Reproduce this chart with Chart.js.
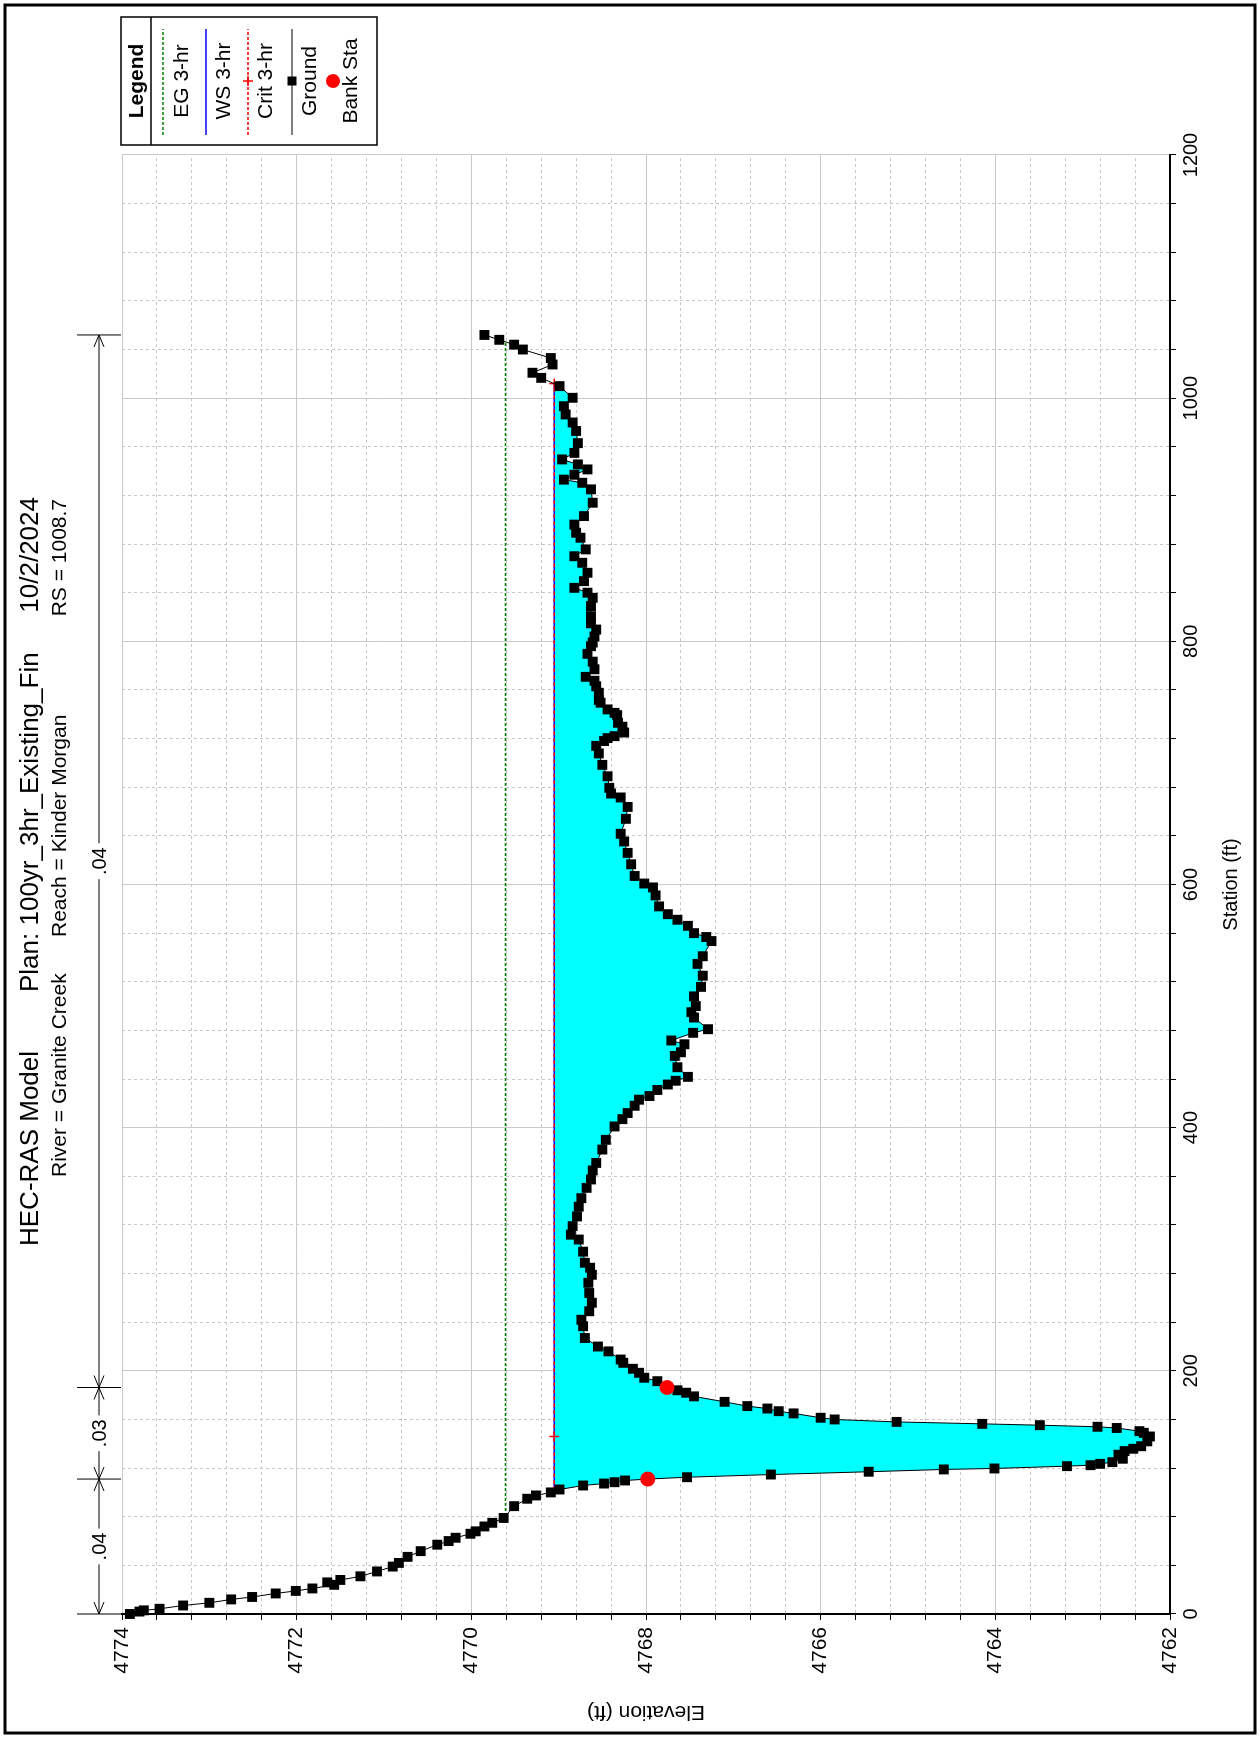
<!DOCTYPE html>
<html>
<head>
<meta charset="utf-8">
<script src="https://cdn.jsdelivr.net/npm/chart.js@4.4.1/dist/chart.umd.min.js"></script>
<style>
  html, body { margin: 0; padding: 0; background: #fff; overflow: hidden; }
  #page { width: 1259px; height: 1737px; position: relative; overflow: hidden; background: #fff; }
  /* the plot is drawn landscape and turned a quarter turn, like the HEC-RAS printout */
  #turn { position: absolute; left: 0; top: 0; width: 1737px; height: 1259px;
          transform-origin: 0 0; transform: translateY(1737px) rotate(-90deg); }
</style>
</head>
<body>
<div id="page"><div id="turn"><canvas id="xs" width="1737" height="1259"></canvas></div></div>
<script>
(function () {

    // ─────────────────────────────────────────────
    // DATA  (station ft / elevation ft)
    // ─────────────────────────────────────────────
    const groundSta = [0, 2, 3, 4.3, 7, 9.2, 12, 14, 16.9, 19, 21, 24, 26, 28, 31, 35, 39, 42, 47, 51.7,
        57, 60, 62.7, 66, 68, 72, 75, 79, 88.7, 94.8, 97.5, 100, 102.4, 105.7, 107.3, 108.4, 109.8, 111,
        112.5, 114.7, 117, 118.9, 119.7, 121.6, 122.4, 123.5, 124.9, 127.7, 131, 134, 135.9, 138, 142,
        146, 149, 150.4, 153, 154, 155.3, 156.4, 158, 160, 161.4, 165, 166.8, 169, 171, 174.5, 179, 182,
        184, 186.3, 191.5, 194.3, 198.4, 201.7, 206.6, 209.3, 216, 220, 227, 236.7, 242, 249, 256, 264,
        272.4, 279, 284.8, 288.9, 298, 308, 312, 319, 327, 335, 342, 350.5, 357.4, 364.8, 371, 382, 390,
        401, 407, 412, 418, 423, 426, 431, 435.5, 438.6, 441.8, 449.7, 459, 462, 468.6, 471.7, 478, 481,
        490.6, 495, 500, 508, 515.8, 525, 534.7, 541, 553.5, 556.8, 560, 566, 571, 575.6, 582, 591, 597.6,
        600.8, 607, 616.6, 626, 635.4, 641.7, 654, 663.8, 671.6, 674.8, 679.5, 689, 698.4, 707.8, 714,
        718, 720.4, 722, 725, 729.8, 733, 739.3, 741.2, 744, 749.5, 751.8, 757.7, 763, 767.6, 770.8, 777,
        783.3, 789.7, 796, 799, 804, 809.7, 814.8, 820.7, 829, 835.8, 840, 844, 849.5, 856.4, 864.6, 870,
        875.6, 885.2, 889.3, 896, 903, 914, 925, 930.4, 933, 937, 941.4, 945.5, 949.6, 955, 963, 973, 980,
        986.6, 993.4, 1000.3, 1009.9, 1016.7, 1020.9, 1027.7, 1033, 1040, 1044, 1048, 1052];

    const groundElev = [4773.91, 4773.80, 4773.75, 4773.57, 4773.30, 4773.00, 4772.75, 4772.51, 4772.24,
        4772.01, 4771.82, 4771.57, 4771.65, 4771.50, 4771.27, 4771.08, 4770.90, 4770.83, 4770.73, 4770.58,
        4770.39, 4770.26, 4770.18, 4770.01, 4769.95, 4769.85, 4769.76, 4769.63, 4769.51, 4769.36, 4769.26,
        4769.09, 4768.99, 4768.72, 4768.48, 4768.36, 4768.24, 4767.98,
        4767.53, 4766.57, 4765.45, 4764.59, 4764.01, 4763.18, 4762.91, 4762.80, 4762.66, 4762.54, 4762.59,
        4762.52, 4762.42, 4762.33, 4762.26, 4762.23, 4762.30, 4762.35, 4762.61, 4762.83, 4763.49, 4764.15,
        4765.13, 4765.84, 4766.00, 4766.31, 4766.48, 4766.61, 4766.84, 4767.10, 4767.45, 4767.54,
        4767.64, 4767.76, 4767.87, 4768.02, 4768.08, 4768.15, 4768.26, 4768.29, 4768.43, 4768.55, 4768.70,
        4768.72, 4768.74, 4768.65, 4768.62, 4768.65,
        4768.66, 4768.62, 4768.64, 4768.70, 4768.72, 4768.77, 4768.86, 4768.84, 4768.79, 4768.77, 4768.74,
        4768.68, 4768.63, 4768.61, 4768.57, 4768.50, 4768.46,
        4768.36, 4768.27, 4768.21, 4768.13, 4768.08, 4767.96, 4767.87, 4767.75, 4767.66, 4767.52, 4767.64,
        4767.67, 4767.60, 4767.56, 4767.71, 4767.46, 4767.29,
        4767.45, 4767.48, 4767.43, 4767.45, 4767.37, 4767.35, 4767.41, 4767.35, 4767.25, 4767.31, 4767.45,
        4767.52, 4767.64, 4767.75, 4767.85, 4767.89, 4767.92,
        4768.02, 4768.13, 4768.17, 4768.21, 4768.25, 4768.29, 4768.23, 4768.21, 4768.29, 4768.40, 4768.42,
        4768.44, 4768.50, 4768.54, 4768.57,
        4768.48, 4768.44, 4768.36, 4768.25, 4768.27, 4768.32, 4768.33, 4768.36, 4768.44, 4768.52, 4768.54,
        4768.54, 4768.57, 4768.59, 4768.69, 4768.59,
        4768.61, 4768.67, 4768.63, 4768.61, 4768.59, 4768.57, 4768.63, 4768.63, 4768.63, 4768.61, 4768.67,
        4768.82, 4768.71, 4768.67, 4768.73, 4768.82,
        4768.69, 4768.75, 4768.80, 4768.82, 4768.71, 4768.61, 4768.63, 4768.73, 4768.94, 4768.82, 4768.67,
        4768.78, 4768.96, 4768.82, 4768.78, 4768.80, 4768.84,
        4768.92, 4768.94, 4768.84, 4768.99, 4769.20, 4769.30, 4769.07, 4769.09, 4769.41, 4769.51, 4769.68,
        4769.85];

    const bankSta  = [111, 186.3];
    const bankElev = [4767.98, 4767.76];

    const wsSta   = [101, 1012];
    const wsElev  = [4769.05, 4769.05];

    const egSta   = [80.6, 1046.4];
    const egElev  = [4769.61, 4769.61];

    const critSta  = [101, 146, 1012];
    const critElev = [4769.05, 4769.05, 4769.05];

    // Manning's n breaks along the top of the plot
    const nSta = [0, 111, 186.3, 1052];
    const nVal = ['.04', '.03', '.04'];

    const legendLabels = ['EG 3-hr', 'WS 3-hr', 'Crit 3-hr', 'Ground', 'Bank Sta'];

    const titleModel = 'HEC-RAS Model';
    const titlePlan  = 'Plan: 100yr_3hr_Existing_Fin';
    const titleDate  = '10/2/2024';
    const subRiver   = 'River = Granite Creek';
    const subReach   = 'Reach = Kinder Morgan';
    const subRs      = 'RS = 1008.7';


    // ─────────────────────────────────────────────
    // HELPERS
    // ─────────────────────────────────────────────
    const FONT = '"Liberation Sans", Arial, Helvetica, sans-serif';

    function pts(xs, ys) {
        return xs.map((x, i) => ({ x: x, y: ys[i] }));
    }

    function isMajorElev(v) {
        return Math.abs(v / 2 - Math.round(v / 2)) < 1e-6;
    }

    // water polygon: ground below the water surface, closed on the WS ends
    const waterPts = [{ x: wsSta[0], y: wsElev[0] }]
        .concat(pts(groundSta, groundElev).filter(p => p.x > wsSta[0] && p.x < wsSta[1]))
        .concat([{ x: wsSta[1], y: wsElev[1] }]);


    // ─────────────────────────────────────────────
    // EXTRAS: frame, titles, n values, legend
    // ─────────────────────────────────────────────
    function seg(ctx, x1, y1, x2, y2) {
        ctx.beginPath();
        ctx.moveTo(x1, y1);
        ctx.lineTo(x2, y2);
        ctx.stroke();
    }

    const extras = {
        id: 'extras',
        afterDraw(chart) {
            const ctx = chart.ctx;
            const area = chart.chartArea;
            const xs = chart.scales.x;
            ctx.save();

            // outer frame
            ctx.strokeStyle = '#000';
            ctx.lineWidth = 3;
            ctx.strokeRect(4, 5, 1728, 1250);

            // titles
            ctx.fillStyle = '#000';
            ctx.textBaseline = 'alphabetic';
            ctx.textAlign = 'left';
            ctx.font = '26px ' + FONT;
            ctx.fillText(titleModel, 491, 38);
            ctx.fillText(titlePlan, 745, 38);
            ctx.textAlign = 'right';
            ctx.fillText(titleDate, 1240, 38);

            ctx.font = '21px ' + FONT;
            ctx.textAlign = 'left';
            ctx.fillText(subRiver, 560, 66);
            ctx.fillText(subReach, 800, 66);
            ctx.textAlign = 'right';
            ctx.fillText(subRs, 1238, 66);

            // Manning's n
            const ny = area.top - 23;
            ctx.lineWidth = 1;
            ctx.font = '20px ' + FONT;
            ctx.textAlign = 'center';
            ctx.textBaseline = 'middle';
            nSta.forEach(s => {
                const p = xs.getPixelForValue(s);
                seg(ctx, p, area.top - 45, p, area.top - 1);
            });
            for (let i = 0; i < nVal.length; i++) {
                const a = xs.getPixelForValue(nSta[i]);
                const b = xs.getPixelForValue(nSta[i + 1]);
                const mid = (a + b) / 2;
                const w = ctx.measureText(nVal[i]).width;
                seg(ctx, a, ny, mid - w / 2 - 4, ny);
                seg(ctx, mid + w / 2 + 4, ny, b, ny);
                ctx.beginPath();
                ctx.moveTo(a + 12, ny - 5); ctx.lineTo(a, ny); ctx.lineTo(a + 12, ny + 5);
                ctx.moveTo(b - 12, ny - 5); ctx.lineTo(b, ny); ctx.lineTo(b - 12, ny + 5);
                ctx.stroke();
                ctx.fillText(nVal[i], mid, ny + 1);
            }

            // legend box
            const lx = area.right + 10, ly = 121, lw = 128, lh = 256;
            const cx = lx + lw / 2;
            ctx.lineWidth = 1.5;
            ctx.strokeRect(lx, ly, lw, lh);
            seg(ctx, lx, ly + 30, lx + lw, ly + 30);
            ctx.font = 'bold 21px ' + FONT;
            ctx.fillText('Legend', cx, ly + 16);

            const lineY = [163, 206, 248, 292, 333];
            const textY = [182, 224, 266, 310, 351];
            const x1 = lx + 10, x2 = lx + 116;

            ctx.lineWidth = 1.5;
            ctx.strokeStyle = '#008000';
            ctx.setLineDash([3, 2]);
            seg(ctx, x1, lineY[0], x2, lineY[0]);

            ctx.strokeStyle = '#0000ff';
            ctx.setLineDash([]);
            seg(ctx, x1, lineY[1], x2, lineY[1]);

            ctx.strokeStyle = '#ff0000';
            ctx.setLineDash([3, 2]);
            seg(ctx, x1, lineY[2], x2, lineY[2]);
            ctx.setLineDash([]);
            seg(ctx, cx - 5, lineY[2], cx + 5, lineY[2]);
            seg(ctx, cx, lineY[2] - 5, cx, lineY[2] + 5);

            ctx.strokeStyle = '#000';
            ctx.lineWidth = 1;
            seg(ctx, x1, lineY[3], x2, lineY[3]);
            ctx.fillStyle = '#000';
            ctx.fillRect(cx - 4.5, lineY[3] - 4.5, 9, 9);

            ctx.fillStyle = '#ff0000';
            ctx.beginPath();
            ctx.arc(cx, lineY[4], 7, 0, Math.PI * 2);
            ctx.fill();

            ctx.fillStyle = '#000';
            ctx.font = '21px ' + FONT;
            legendLabels.forEach((t, i) => ctx.fillText(t, cx, textY[i]));

            ctx.restore();
        }
    };


    // ─────────────────────────────────────────────
    // CHART
    // ─────────────────────────────────────────────
    Chart.defaults.font.family = FONT;
    Chart.defaults.color = '#000';

    new Chart(document.getElementById('xs').getContext('2d'), {
        type: 'line',
        data: {
            datasets: [
                {
                    label: 'Bank Sta',
                    data: pts(bankSta, bankElev),
                    showLine: false,
                    pointStyle: 'circle',
                    pointRadius: 7.5,
                    pointBackgroundColor: '#ff0000',
                    pointBorderWidth: 0,
                    order: 1
                },
                {
                    label: 'Ground',
                    data: pts(groundSta, groundElev),
                    borderColor: '#000',
                    borderWidth: 1,
                    pointStyle: 'rect',
                    pointRadius: 7,
                    pointBackgroundColor: '#000',
                    pointBorderWidth: 0,
                    clip: false,
                    order: 2
                },
                {
                    label: 'Crit 3-hr',
                    data: pts(critSta, critElev),
                    borderColor: '#ff0000',
                    borderWidth: 1.5,
                    borderDash: [4, 3],
                    pointStyle: 'cross',
                    pointRadius: 5,
                    pointBorderColor: '#ff0000',
                    pointBorderWidth: 1.5,
                    order: 3
                },
                {
                    label: 'WS 3-hr',
                    data: pts(wsSta, wsElev),
                    borderColor: '#0000ff',
                    borderWidth: 1.5,
                    pointRadius: 0,
                    order: 4
                },
                {
                    label: 'EG 3-hr',
                    data: pts(egSta, egElev),
                    borderColor: '#008000',
                    borderWidth: 1.5,
                    borderDash: [3, 2],
                    pointRadius: 0,
                    order: 5
                },
                {
                    label: 'water',
                    data: waterPts,
                    borderWidth: 0,
                    borderColor: 'rgba(0,0,0,0)',
                    pointRadius: 0,
                    backgroundColor: '#00ffff',
                    fill: { value: wsElev[0] },
                    order: 6
                }
            ]
        },
        options: {
            responsive: false,
            devicePixelRatio: 1,
            animation: false,
            events: [],
            layout: { padding: { left: 0, right: 155, top: 122, bottom: 0 } },
            plugins: {
                legend: { display: false },
                tooltip: { enabled: false }
            },
            scales: {
                x: {
                    type: 'linear',
                    min: 0,
                    max: 1200,
                    ticks: {
                        stepSize: 40,
                        autoSkip: false,
                        maxRotation: 0,
                        minRotation: 0,
                        padding: 3,
                        font: { size: 20 },
                        callback: v => (v % 200 === 0 ? String(v) : '')
                    },
                    grid: { color: '#c8c8c8', lineWidth: 1, tickColor: '#000', tickLength: 6, tickWidth: 1 },
                    border: {
                        color: '#000',
                        width: 2,
                        dash: c => (c.tick && c.tick.value % 200 !== 0 ? [3, 3] : [])
                    },
                    title: { display: true, text: 'Station (ft)', font: { size: 20 }, padding: { top: 0, bottom: 16 } },
                    afterFit: s => { s.height = 89; }
                },
                y: {
                    type: 'linear',
                    min: 4762,
                    max: 4774,
                    ticks: {
                        stepSize: 0.4,
                        autoSkip: false,
                        padding: 7,
                        font: { size: 21 },
                        callback: v => (isMajorElev(v) ? Math.round(v).toString() : '')
                    },
                    grid: { color: '#c8c8c8', lineWidth: 1, tickColor: '#000', tickLength: 6, tickWidth: 1 },
                    border: {
                        color: '#000',
                        width: 2,
                        dash: c => (c.tick && !isMajorElev(c.tick.value) ? [3, 3] : [])
                    },
                    title: { display: true, text: 'Elevation (ft)', font: { size: 21 }, padding: { top: 13, bottom: 0 } },
                    afterFit: s => { s.width = 123; }
                }
            }
        },
        plugins: [extras]
    });

})();
</script>
</body>
</html>
